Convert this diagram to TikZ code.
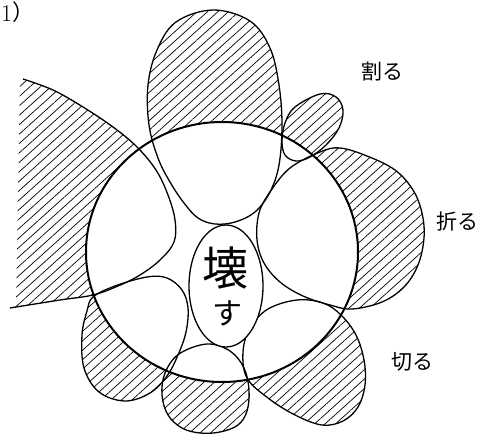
\documentclass[tikz,border=0pt]{standalone}
\usepackage{fontspec}
\newfontfamily\cjk{Noto Sans CJK JP}
\usetikzlibrary{patterns.meta,shapes.geometric}
\begin{document}
\begin{tikzpicture}[x=1pt,y=-1pt,
  hatch/.style={pattern={Lines[angle=42,distance=7pt,line width=0.7pt]}},
  petal/.style={line width=1.3pt, line join=round},
  rim/.style={line width=2pt},
  lbl/.style={font=\cjk\fontsize{21}{21}\selectfont, inner sep=0pt},
  core/.style={font=\cjk\fontsize{46}{46}\selectfont, inner sep=0pt}]
\useasboundingbox (0,0) rectangle (483,434);

\def\toppetal{plot[smooth cycle, tension=0.6] coordinates{(213,10) (250,21) (270,48) (279,85) (282,125) (279,165) (270,192) (255,212) (235,222) (215,224) (198,218) (184,203) (170,182) (158,158) (149,125) (148,85) (157,50) (176,22)}}
\def\smallpetal{plot[smooth cycle, tension=0.6] coordinates{(320,94) (336,97) (343,110) (339,128) (326,145) (310,157) (296,161) (285,155) (282,141) (285,123) (295,107)}}
\def\rightpetal{plot[smooth cycle, tension=0.6] coordinates{(320,152) (340,148) (367,156) (395,170) (413,190) (422,213) (424,238) (418,265) (404,287) (382,302) (352,309) (330,305) (303,296) (280,282) (264,263) (257,240) (259,213) (270,192) (290,168)}}
\def\brpetal{plot[smooth cycle, tension=0.6] coordinates{(247,378) (243,352) (250,328) (268,309) (297,300) (323,303) (341,315) (356,335) (364,360) (365,385) (358,407) (343,421) (322,425) (295,415) (268,398)}}
\def\botpetal{plot[smooth cycle, tension=0.6] coordinates{(207,344) (230,351) (244,368) (249,390) (247,411) (238,425) (220,432) (200,433) (182,428) (168,415) (162,395) (165,373) (179,354)}}
\def\blpetal{plot[smooth cycle, tension=0.6] coordinates{(93,297) (115,286) (147,277) (167,278) (182,290) (188,308) (186,332) (178,355) (167,376) (150,393) (125,401) (99,392) (84,368) (82,335) (87,311)}}
\def\leftregion{plot[smooth, tension=0.6] coordinates{(23,79) (53,90) (83,107) (113,127) (137,147) (156,170) (168,195) (175,220) (174,242) (160,260) (140,275) (118,286) (93,295) (60,300) (10,308)}}

% hatching (only outside the big circle remains visible)
\fill[hatch] \toppetal;
\fill[hatch] \smallpetal;
\fill[hatch] \rightpetal;
\fill[hatch] \brpetal;
\fill[hatch] \botpetal;
\fill[hatch] \blpetal;
\fill[hatch] \leftregion -- (16,306) -- (20,82) -- cycle;

% big circle interior is blank
\fill[white] (222,252) ellipse [x radius=136, y radius=130];

% outlines
\draw[petal] \toppetal;
\draw[petal] \smallpetal;
\draw[petal] \rightpetal;
\draw[petal] \brpetal;
\draw[petal] \botpetal;
\draw[petal] \blpetal;
\draw[petal] \leftregion;
\node[draw, rim, ellipse, minimum width=272pt, minimum height=260pt, inner sep=0pt] (rimc) at (222,252) {};
\draw[petal, fill=white] (226,286) ellipse [x radius=37, y radius=61];
\coordinate (corec) at (226,286);

% texts
\node[core] (kowa) at (225,268) {壊};
\node[core, font=\cjk\fontsize{30}{30}\selectfont] (su) at (227,313) {す};
\node[lbl] (waru) at (382,72) {割る};
\node[lbl] (oru) at (457,222) {折る};
\node[lbl] (kiru) at (412,362) {切る};
\node[anchor=base west, inner sep=0pt, font=\fontsize{24}{24}\selectfont] (one) at (1,21) {1};
\node[anchor=west, inner sep=0pt, font=\cjk\fontsize{22}{22}\selectfont] (paren) at (12,12) {）};
\end{tikzpicture}
\end{document}
